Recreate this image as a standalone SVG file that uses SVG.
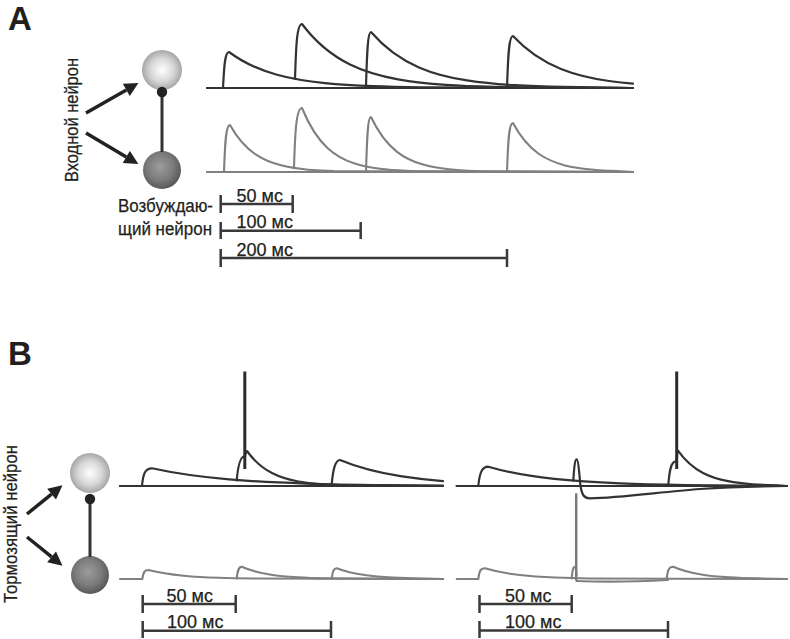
<svg xmlns="http://www.w3.org/2000/svg" width="790" height="639" viewBox="0 0 790 639">
<style>
  .lbl{font-family:"Liberation Sans",Arial,sans-serif;fill:#231f20;stroke:#231f20;stroke-width:0.25}
  .panel{font-family:"Liberation Sans",Arial,sans-serif;font-weight:bold;font-size:33px;fill:#231f20}
  .txt{font-size:18px}
  .dk{fill:none;stroke:#333;stroke-width:2.2;stroke-linejoin:round;stroke-linecap:round}
  .gr{fill:none;stroke:#808080;stroke-width:2.1;stroke-linejoin:round;stroke-linecap:round}
  .spk{fill:none;stroke:#2b2b2b;stroke-width:3}
  .spkg{fill:none;stroke:#7a7a7a;stroke-width:2.5}
  .bar{fill:none;stroke:#3a3a3a;stroke-width:2.5}
  .arr{fill:none;stroke:#222;stroke-width:3.5}
  .inh{fill:none;stroke:#333;stroke-width:3}
</style>
<defs>
  <radialGradient id="gLight" cx="50%" cy="50%" r="55%">
    <stop offset="0" stop-color="#ffffff"/>
    <stop offset="0.55" stop-color="#d6d6d6"/>
    <stop offset="1" stop-color="#9a9a9a"/>
  </radialGradient>
  <radialGradient id="gDark" cx="45%" cy="42%" r="60%">
    <stop offset="0" stop-color="#9c9c9c"/>
    <stop offset="0.6" stop-color="#7a7a7a"/>
    <stop offset="1" stop-color="#555"/>
  </radialGradient>
  <marker id="ah" viewBox="0 0 10 10" refX="0" refY="5" markerWidth="16" markerHeight="14" markerUnits="userSpaceOnUse" orient="auto">
    <path d="M0,0 L10,5 L0,10 z" fill="#222"/>
  </marker>
</defs>

<!-- Panel labels -->
<text class="panel" x="8" y="30">A</text>
<text class="panel" x="8" y="365">B</text>

<!-- ===== Panel A ===== -->
<g id="A-input-label">
  <text class="lbl txt" transform="translate(78,120) rotate(-90)" text-anchor="middle" textLength="124" lengthAdjust="spacingAndGlyphs">Входной нейрон</text>
</g>
<g id="A-neuron-top"><circle cx="162" cy="70" r="20" fill="url(#gLight)"/></g>
<g id="A-neuron-bottom"><circle cx="162" cy="170" r="19" fill="url(#gDark)"/></g>
<g id="A-exc-label">
  <text class="lbl txt" x="118" y="212" textLength="95" lengthAdjust="spacingAndGlyphs">Возбуждаю-</text>
  <text class="lbl txt" x="118" y="235" textLength="94" lengthAdjust="spacingAndGlyphs">щий нейрон</text>
</g>
<g id="A-connectors">
  <line class="arr" x1="86" y1="113" x2="126.3" y2="89.9" marker-end="url(#ah)"/>
  <line class="arr" x1="86" y1="133" x2="126.3" y2="156.9" marker-end="url(#ah)"/>
  <line class="inh" x1="162" y1="92" x2="162" y2="152"/>
  <circle cx="162" cy="92" r="5.2" fill="#222"/>
</g>

<g id="A-traces">
  <path class="dk" d="M207,88 H633"/>
  <path class="dk" d="M207,88 H223 C224,70 224.5,52 229,52 C245,64 261,70.3 277,74.8 C293,79.2 309,81.5 325,83.1 C341,84.75 357,85.6 373,86.2 C389,86.8 405,87.1 421,87.34 L633,88"/>
  <path class="dk" d="M295,79 C296,50 296.5,24 302,24 C318,45.3 334,56.6 350,64.45 C366,72.3 382,76.4 398,79.3 C414,82.2 430,83.75 446,84.8 C462,85.9 478,86.4 494,86.8 C510,87.2 526,87.4 542,87.57 L633,88"/>
  <path class="dk" d="M366,86 C367,55 367.5,32 371,32 C387,50.65 403,60.5 419,67.4 C435,74.3 451,77.9 467,80.4 C483,82.9 499,84.3 515,85.2 C531,86.1 547,86.6 563,86.97 C579,87.3 595,87.5 611,87.6 L633,88"/>
  <path class="dk" d="M507,88 C508,60 508.5,36 513,36 C529,53.3 545,62.5 561,68.9 C577,75.3 593,78.6 609,81 C617,82.1 625,83 633,83.7"/>

  <path class="gr" d="M207,172 H633"/>
  <path class="gr" d="M207,172 H224 C225,145 225.5,125 230,125 C238.7,140.65 247.3,148.9 256,154.7 C264.7,160.5 273.3,163.5 282,165.6 C290.7,167.8 299.3,168.9 308,169.7 C316.7,170.4 325.3,170.85 334,171.1 L633,172"/>
  <path class="gr" d="M294,168 C295,135 296,108 302,108 C310.7,129.3 319.3,140.6 328,148.45 C336.7,156.3 345.3,160.4 354,163.3 C362.7,166.2 371.3,167.75 380,168.8 C388.7,169.9 397.3,170.4 406,170.8 C414.7,171.2 423.3,171.4 432,171.57 L633,172"/>
  <path class="gr" d="M366,171.7 C367,140 367.5,117 371,117 C379.7,135.3 388.3,145 397,151.8 C405.7,158.5 414.3,162.1 423,164.55 C431.7,167 440.3,168.3 449,169.26 C457.7,170.2 466.3,170.65 475,170.99 C483.7,171.3 492.3,171.5 501,171.63 L633,172"/>
  <path class="gr" d="M507,172 C508,145 508.5,123 513,123 C521.7,139.3 530.3,147.9 539,154 C547.7,160 556.3,163.1 565,165.4 C573.7,167.6 582.3,168.7 591,169.56 C599.7,170.4 608.3,170.8 617,171.1 L633,172"/>
</g>

<g id="A-scalebars">
  <path class="bar" d="M220.7,195 V213 M220.7,204 H292.7 M292.7,195 V213"/>
  <path class="bar" d="M220.7,222 V239 M220.7,230.7 H360.7 M360.7,222 V239"/>
  <path class="bar" d="M220.7,249 V267 M220.7,258 H507 M507,249 V267"/>
  <text class="lbl txt" x="236.5" y="201.5">50 мс</text>
  <text class="lbl txt" x="236.5" y="228.3">100 мс</text>
  <text class="lbl txt" x="236.5" y="255.5">200 мс</text>
</g>

<!-- ===== Panel B ===== -->
<g id="B-inh-label">
  <text class="lbl txt" transform="translate(17,524) rotate(-90)" text-anchor="middle" textLength="158" lengthAdjust="spacingAndGlyphs">Тормозящий нейрон</text>
</g>
<g id="B-neuron-top"><circle cx="90" cy="473" r="20" fill="url(#gLight)"/></g>
<g id="B-neuron-bottom"><circle cx="90" cy="575" r="19" fill="url(#gDark)"/></g>
<g id="B-connectors">
  <line class="arr" x1="27" y1="514" x2="51.6" y2="494.1" marker-end="url(#ah)"/>
  <line class="arr" x1="27" y1="537" x2="51.6" y2="556.9" marker-end="url(#ah)"/>
  <line class="inh" x1="90" y1="499" x2="90" y2="557"/>
  <circle cx="90" cy="499" r="5.2" fill="#222"/>
</g>

<g id="B-traces-left">
  <path class="dk" d="M120,486 H443"/>
  <path class="dk" d="M120,486 H142 C143,474 145,468.3 152,468.3 C177.7,474 203.3,477.16 229,479.4 C254.7,481.6 280.3,482.75 306,483.56 C331.7,484.4 357.3,484.8 383,485.1 L443,485.5"/>
  <path class="dk" d="M236.7,480.5 C238,466 240,457 244,456.5 C245.5,456 246,451 247,451 C255.3,462.65 263.7,468.8 272,473.1 C280.3,477.4 288.7,479.7 297,481.26 C305.3,482.8 313.7,483.7 322,484.26 C330.3,484.8 338.7,485.1 347,485.36 L443,486"/>
  <path class="spk" d="M244.8,469 V371.5"/>
  <path class="dk" d="M331.7,484.4 C333,470 335,460 340,460 C360.7,468.66 381.3,473.2 402,476.4 C415.7,478.5 429.3,479.97 443,481.06"/>

  <path class="gr" d="M120,579 H142.3 C143.5,572 144.5,570 148.5,570 C160.2,573 171.8,574.6 183.5,575.7 C195.2,576.8 206.8,577.4 218.5,577.8 C230.2,578.2 241.8,578.4 253.5,578.55 L443,579"/>
  <path class="gr" d="M236.7,578.4 C237.7,570 238.7,566.7 241.7,566.7 C251,570.8 260.4,572.96 269.7,574.47 C279,576 288.4,576.8 297.7,577.33 C307,577.9 316.4,578.2 325.7,578.4 L443,579"/>
  <path class="gr" d="M331.7,578.8 C332.7,571 333.7,568.3 336.7,568.3 C346,571.86 355.4,573.75 364.7,575.06 C374,576.4 383.4,577.07 392.7,577.55 C402,578 411.4,578.3 420.7,578.47 L443,579"/>
</g>

<g id="B-traces-right">
  <path class="dk" d="M456.7,486 H787"/>
  <path class="dk" d="M456.7,486 H478.3 C479.5,474 481.5,466.7 488.3,466.7 C510.3,473.1 532.3,476.5 554.3,478.9 C576.3,481.3 598.3,482.5 620.3,483.4 C642.3,484.3 664.3,484.7 686.3,485.04 C708.3,485.4 730.3,485.5 752.3,485.65 L787,486"/>
  <path class="dk" d="M573.3,480.6 C574.5,462 575.5,459.3 576.7,459.3 C578,459.3 579,470 580.5,486 C582,495 584,498.3 590,498.3 C620,498 660,492 700,489 C730,487 760,486.3 787,486"/>
  <path class="dk" d="M668.3,484.8 C669.5,470 671,462 675.5,461.5 C677,461 677,451 678,450.7 C686.3,462.45 694.7,468.67 703,473 C711.3,477.3 719.7,479.6 728,481.2 C736.3,482.8 744.7,483.65 753,484.24 C761.3,484.8 769.7,485.1 778,485.35 L787,486"/>
  <path class="spk" d="M676.7,469 V371.5"/>

  <path class="gr" d="M456.7,579 H478.3 C479.3,571 480.5,568.3 485,568.3 C496.7,571.86 508.3,573.75 520,575.06 C531.7,576.4 543.3,577.07 555,577.55 C566.7,578 578.3,578.3 590,578.47 L787,579"/>
  <path class="gr" d="M571.7,578.5 C572.5,570 573,567 574.5,567 C575.5,567 576,570 576.5,575"/>
  <path class="spkg" d="M576.2,493.3 V580.5"/>
  <path class="gr" d="M576.5,581 C600,582 640,581.5 668,580"/>
  <path class="gr" d="M666.7,579 C667.7,570 668.7,566.7 673.3,566.7 C682.6,570.8 692,572.96 701.3,574.47 C710.6,576 720,576.8 729.3,577.33 C738.6,577.9 748,578.2 757.3,578.4 L787,579"/>
</g>

<g id="B-scalebars">
  <path class="bar" d="M142.7,595 V613 M142.7,604 H235.7 M235.7,595 V613"/>
  <path class="bar" d="M142.7,621 V638 M142.7,630.7 H331 M331,621 V638"/>
  <text class="lbl txt" x="166.5" y="601.8">50 мс</text>
  <text class="lbl txt" x="167" y="627.8">100 мс</text>
  <path class="bar" d="M479.5,595 V613 M479.5,604 H571.7 M571.7,595 V613"/>
  <path class="bar" d="M479.5,621 V638 M479.5,630.5 H668 M668,621 V638"/>
  <text class="lbl txt" x="505" y="601.8">50 мс</text>
  <text class="lbl txt" x="505" y="627.8">100 мс</text>
</g>
</svg>
